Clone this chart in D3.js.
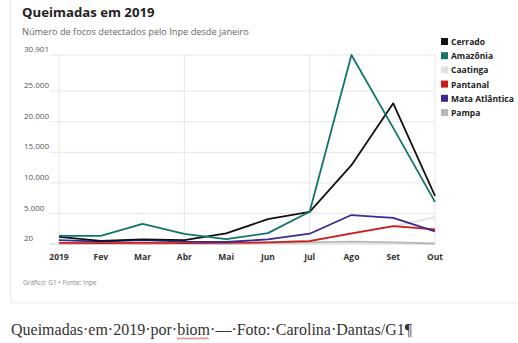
<!DOCTYPE html>
<html>
<head>
<meta charset="utf-8">
<script src="https://cdn.jsdelivr.net/npm/d3@7"></script>
<style>
  html, body { margin: 0; padding: 0; background: #fff; }
  svg { display: block; }
</style>
</head>
<body>
<svg id="canvas" width="518" height="343"></svg>
<script>
// meses e focos por bioma (Inpe, 2019)
const months = ["2019","Fev","Mar","Abr","Mai","Jun","Jul","Ago","Set","Out"];
const cerrado = [1190, 520, 770, 650, 1750, 4080, 5280, 12900, 23000, 7900];
const amazonia = [1360, 1350, 3320, 1680, 820, 1800, 5300, 30901, 19000, 6900];
const caatinga = [150, 100, 150, 100, 150, 300, 600, 1600, 2900, 4400];
const pantanal = [200, 150, 200, 150, 200, 280, 500, 1750, 2950, 2400];
const mataAtlantica = [650, 400, 650, 400, 350, 780, 1700, 4750, 4300, 2100];
const pampa = [60, 50, 60, 50, 60, 150, 300, 400, 300, 100];
const yTicks = [20, 5000, 10000, 15000, 20000, 25000, 30901];
const vTicks = ["2019", "Abr", "Jul", "Out"];

const biomas = ["Cerrado","Amazônia","Caatinga","Pantanal","Mata Atlântica","Pampa"];
const series = [cerrado, amazonia, caatinga, pantanal, mataAtlantica, pampa];
const colors = ["#111111","#12756b","#e2e2e2","#cc1b1b","#3a2b91","#b8b8b8"];

let svg = d3.select("#canvas");
const font = "'Open Sans', 'Noto Sans', sans-serif";

// cartão
svg.append("rect").attr("x",10.5).attr("y",-2).attr("width",520).attr("height",305)
  .attr("fill","#fff").attr("stroke","#ececec");

let x = d3.scalePoint().domain(months).range([59, 435]);
let y = d3.scaleLinear().domain([20, 30901]).range([244, 55]);

// grade
svg.append("g").selectAll("line").data(yTicks).join("line")
  .attr("x1",50).attr("x2",435)
  .attr("y1",d=>y(d)).attr("y2",d=>y(d))
  .attr("stroke",d=>d==20?"#cfcfcf":"#e6e6e6").attr("stroke-width",1);
svg.append("g").selectAll("line").data(vTicks).join("line")
  .attr("x1",d=>x(d)).attr("x2",d=>x(d))
  .attr("y1",y(30901)).attr("y2",y(20))
  .attr("stroke","#e6e6e6").attr("stroke-width",1);

svg.append("g").selectAll("text").data(yTicks).join("text")
  .attr("x",24).attr("y",d=>y(d)-3)
  .style("font",`8px ${font}`).attr("fill","#555")
  .text(d=>d3.format(",")(d).replace(/,/g,"."));

svg.append("g").selectAll("text").data(months).join("text")
  .attr("x",d=>x(d)).attr("y",260).attr("text-anchor","middle")
  .style("font",`bold 8.5px ${font}`).attr("fill","#333")
  .text(d=>d);

// linhas (de trás para frente)
let line = d3.line().x((d,i)=>x(months[i])).y(d=>y(d));
[5,2,3,4,0,1].forEach(k=>{
  svg.append("path").datum(series[k]).attr("d",line)
    .attr("fill","none").attr("stroke",colors[k]).attr("stroke-width",1.8)
    .attr("stroke-linejoin","round");
});

// títulos
svg.append("text").attr("x",22).attr("y",17).text("Queimadas em 2019")
  .style("font",`bold 13.2px ${font}`).attr("fill","#222");
svg.append("text").attr("x",22).attr("y",35).text("Número de focos detectados pelo Inpe desde janeiro")
  .style("font",`9.2px ${font}`).attr("fill","#666");

// legenda
let leg = svg.append("g");
biomas.forEach((b,i)=>{
  leg.append("rect").attr("x",441).attr("y",38+i*14.2).attr("width",7).attr("height",7).attr("fill",colors[i]);
  leg.append("text").attr("x",451).attr("y",45+i*14.2).text(b)
    .style("font",`bold 8.5px ${font}`).attr("fill","#222");
});

svg.append("text").attr("x",23).attr("y",285).text("Gráfico: G1 • Fonte: Inpe")
  .style("font",`6.5px ${font}`).attr("fill","#888");

// legenda da foto
let cap = svg.append("text").attr("x",11).attr("y",335)
  .style("font","16px 'Liberation Serif', serif").attr("fill","#333");
let pre = cap.append("tspan").text("Queimadas·em·2019·por·");
let bi = cap.append("tspan").text("biom");
cap.append("tspan").text("·—·Foto:·Carolina·Dantas/G1¶");
let x0 = 11 + pre.node().getComputedTextLength();
let wb = bi.node().getComputedTextLength();
let wave = d3.range(0, wb + 0.1, 1.5).map((d,i)=>[x0 + d, 338 + (i%2 ? 1 : -0.2)]);
svg.append("path").attr("d", d3.line()(wave)).attr("fill","none")
  .attr("stroke","#d42020").attr("stroke-width",0.8);
</script>
</body>
</html>
